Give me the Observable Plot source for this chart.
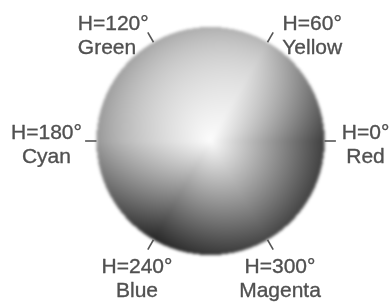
<!DOCTYPE html>
<html><head><meta charset="utf-8">
<script src="https://cdn.jsdelivr.net/npm/d3@7"></script>
<script src="https://cdn.jsdelivr.net/npm/@observablehq/plot@0.6"></script>
<style>
html,body{margin:0;padding:0;background:#fff;}
#chart{width:389px;height:302px;}
</style></head><body><div id="chart"></div>
<script>
// Data: hue markers on the wheel
const hueAngles = [0, 60, 120, 180, 240, 300];
const hueNames = ["Red", "Yellow", "Green", "Cyan", "Blue", "Magenta"];
const hueLabels = ["H=0°", "H=60°", "H=120°", "H=180°", "H=240°", "H=300°"];
// Gray tone read at the rim of the wheel for each marked hue (0 = black, 1 = white)
const rimTone = [0.28, 0.82, 0.76, 0.68, 0.17, 0.32];

// Layout
const W = 389, H = 302;
const CX = 210, CY = 140.5, R = 114;
const xDomain = [-CX / R, (W - CX) / R];
const yDomain = [-(H - CY) / R, CY / R];
const rad = d => d * Math.PI / 180;

function toneOfHue(h) {
  const k = Math.floor(h / 60) % 6, t = (h - k * 60) / 60;
  return rimTone[k] * (1 - t) + rimTone[(k + 1) % 6] * t;
}
function shade(x, y) {
  const r = Math.hypot(x, y);
  if (r > 1) return NaN;
  let h = Math.atan2(y, x) * 180 / Math.PI;
  if (h < 0) h += 360;
  const s = Math.pow(r, 0.95);
  let g = (1 - s) * 0.99 + s * toneOfHue(h);
  g *= 1 - 0.13 * Math.pow(r, 5);
  return Math.max(0, Math.min(1, g));
}

function placement(a) {
  const c = Math.cos(rad(a)), s = Math.sin(rad(a));
  if (s > 0.5) return {r: 1.1, dx: c > 0 ? 39 : -70, textAnchor: c > 0 ? "middle" : "start"};
  if (s < -0.5) return {r: 1.36, dx: c > 0 ? -8 : 4, textAnchor: "middle"};
  return {r: 1.36, dx: c < 0 ? -9 : 0, textAnchor: "middle"};
}

const idx = d3.range(hueAngles.length);
const labelMarks = idx.map(i => {
  const p = placement(hueAngles[i]);
  return Plot.text([i], {
    x: j => p.r * Math.cos(rad(hueAngles[j])),
    y: j => p.r * Math.sin(rad(hueAngles[j])),
    text: j => hueLabels[j] + "\n" + hueNames[j],
    dx: p.dx, dy: 2,
    textAnchor: p.textAnchor,
    lineAnchor: "middle",
    lineHeight: 1.14,
    fontSize: 21,
    fill: "#505050",
    stroke: "#505050",
    strokeWidth: 0.35
  });
});

const chart = Plot.plot({
  width: W, height: H,
  margin: 0,
  x: {domain: xDomain, axis: null},
  y: {domain: yDomain, axis: null},
  color: {type: "linear", domain: [0, 1], range: ["black", "white"]},
  style: {fontFamily: "'Liberation Sans', Arial, sans-serif", background: "#fff"},
  marks: [
    Plot.raster({x1: -1, x2: 1, y1: -1, y2: 1, width: 228, height: 228, fill: shade, imageRendering: "auto"}),
    Plot.link(idx, {
      x1: i => Math.cos(rad(hueAngles[i])) * 1.0,
      y1: i => Math.sin(rad(hueAngles[i])) * 1.0,
      x2: i => Math.cos(rad(hueAngles[i])) * 1.1,
      y2: i => Math.sin(rad(hueAngles[i])) * 1.1,
      stroke: "#555", strokeWidth: 1.6
    }),
    ...labelMarks
  ]
});
chart.querySelectorAll("image").forEach(im => im.style.filter = "blur(1.5px)");
chart.querySelectorAll("text").forEach(t => t.style.filter = "blur(0.45px)");
document.getElementById("chart").appendChild(chart);
</script></body></html>
